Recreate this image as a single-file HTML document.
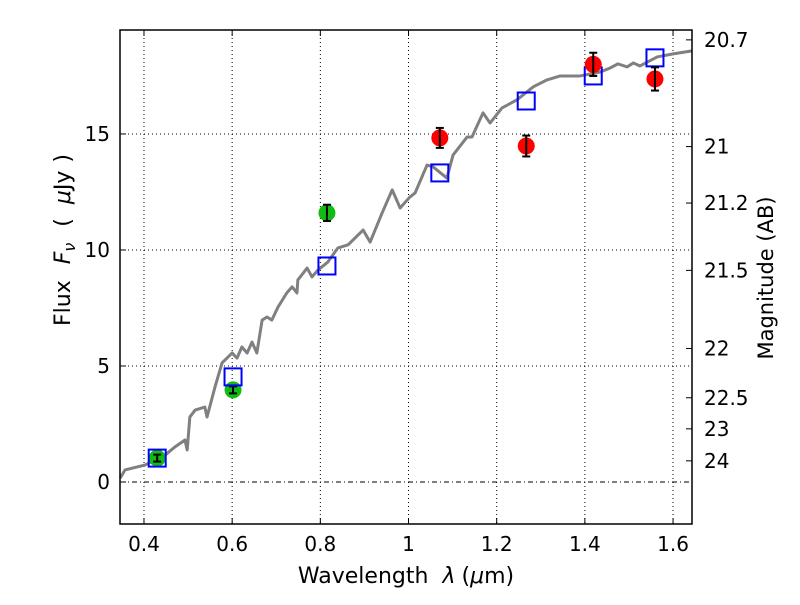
<!DOCTYPE html>
<html><head><meta charset="utf-8"><style>
body{margin:0;background:#fff;}
svg text{font-family:"DejaVu Sans","Liberation Sans",sans-serif;}
</style></head><body>
<svg id="chart" width="800" height="600" xmlns="http://www.w3.org/2000/svg">
<rect width="800" height="600" fill="#fff"/>
<g id="grid"></g>
<g id="marks"></g>
<g id="axes"></g>
<text x="406" y="583" font-size="22" text-anchor="middle">Wavelength<tspan dx="14" font-style="italic">λ</tspan><tspan dx="6">(</tspan><tspan font-style="italic">μ</tspan>m)</text>
<text transform="translate(70,240) rotate(-90)" font-size="22" text-anchor="middle">Flux<tspan dx="16" font-style="italic">F</tspan><tspan font-style="italic" font-size="16" dy="5">ν</tspan><tspan dy="-5" dx="16">(</tspan><tspan dx="14" font-style="italic">μ</tspan>Jy<tspan dx="8">)</tspan></text>
<text transform="translate(773,278) rotate(-90)" font-size="21" text-anchor="middle">Magnitude (AB)</text>
</svg>
<script>
const specX=[0.346,0.357,0.402,0.448,0.470,0.493,0.498,0.504,0.516,0.538,0.543,0.561,0.577,0.600,0.611,0.622,0.634,0.645,0.656,0.668,0.679,0.690,0.704,0.724,0.736,0.747,0.749,0.770,0.781,0.795,0.817,0.833,0.840,0.863,0.897,0.913,0.940,0.963,0.981,1.003,1.015,1.042,1.056,1.087,1.101,1.133,1.144,1.169,1.185,1.212,1.246,1.283,1.314,1.344,1.389,1.435,1.457,1.475,1.496,1.510,1.525,1.564,1.600,1.643];
const specY=[0.17,0.52,0.73,1.16,1.51,1.81,1.38,2.80,3.10,3.23,2.80,4.09,5.13,5.56,5.34,5.82,5.56,6.03,5.56,6.98,7.11,6.98,7.54,8.15,8.41,8.15,8.71,9.22,8.84,9.14,9.48,9.91,10.09,10.22,10.86,10.34,11.59,12.59,11.81,12.28,12.46,13.66,13.58,13.10,14.09,14.87,14.87,15.91,15.47,16.12,16.47,17.03,17.33,17.50,17.50,17.67,17.84,18.02,17.89,18.06,17.93,18.32,18.45,18.58];
const greenX=[0.43,0.602,0.815];
const greenY=[1.03,3.97,11.6];
const greenErr=[0.15,0.15,0.35];
const redX=[1.071,1.267,1.419,1.559];
const redY=[14.83,14.48,18.0,17.37];
const redErr=[0.43,0.45,0.5,0.5];
const modelX=[0.43,0.602,0.815,1.071,1.267,1.419,1.559];
const modelY=[1.03,4.53,9.31,13.32,16.42,17.5,18.28];
const xTicks=[0.4,0.6,0.8,1.0,1.2,1.4,1.6];
const xTickLabels=["0.4","0.6","0.8","1","1.2","1.4","1.6"];
const yTicks=[0,5,10,15];
const magTicks=[20.7,21,21.2,21.5,22,22.5,23,24];

const L=120,R=692,T=30,B=524,XMIN=0.3456,XMAX=1.643,YMIN=-1.81,YMAX=19.48;
const sx=v=>L+(v-XMIN)/(XMAX-XMIN)*(R-L);
const sy=v=>B-(v-YMIN)/(YMAX-YMIN)*(B-T);
const NS="http://www.w3.org/2000/svg";
function mk(tag,attrs,parent){const e=document.createElementNS(NS,tag);for(const k in attrs)e.setAttribute(k,attrs[k]);parent.appendChild(e);return e;}
const grid=document.getElementById('grid'),marks=document.getElementById('marks'),axes=document.getElementById('axes');
xTicks.forEach(v=>{const l=mk('line',{x1:sx(v),x2:sx(v),y1:T,y2:B,stroke:'#000','stroke-width':1,'stroke-dasharray':'1,3'},grid);});
yTicks.forEach(v=>{if(v===0)return;const l=mk('line',{x1:L,x2:R,y1:sy(v),y2:sy(v),stroke:'#000','stroke-width':1,'stroke-dasharray':'1,3'},grid);});
const zl=mk('line',{x1:L,x2:R,y1:sy(0),y2:sy(0),stroke:'#000','stroke-width':1,'stroke-dasharray':'5,3,1,3'},grid);


const sp=mk('polyline',{points:specX.map((x,i)=>sx(x)+','+sy(specY[i])).join(' '),fill:'none',stroke:'#808080','stroke-width':3,'stroke-linejoin':'round'},marks);


function pt(x,y,e,color){
  const c=mk('circle',{cx:sx(x),cy:sy(y),r:8.5,fill:color},marks);
  
  
  const g=mk('g',{stroke:'#000','stroke-width':2},marks);
  
  
  const X=sx(x),y1=sy(y+e),y2=sy(y-e);
  mk('line',{x1:X,x2:X,y1:y1,y2:y2},g);mk('line',{x1:X-4,x2:X+4,y1:y1,y2:y1},g);mk('line',{x1:X-4,x2:X+4,y1:y2,y2:y2},g);
}
greenX.forEach((x,i)=>pt(x,greenY[i],greenErr[i],'#11bb11'));
modelX.forEach((x,i)=>{const r=mk('rect',{x:sx(x)-8.5,y:sy(modelY[i])-8.5,width:17,height:17,fill:'none',stroke:'#0000ff','stroke-width':2},marks);});
redX.forEach((x,i)=>pt(x,redY[i],redErr[i],'#ff0000'));
const fr=mk('rect',{x:L,y:T,width:R-L,height:B-T,fill:'none',stroke:'#000','stroke-width':1.5},axes);


xTicks.forEach((v,i)=>{mk('line',{x1:sx(v),x2:sx(v),y1:B,y2:B-6,stroke:'#000'},axes);mk('line',{x1:sx(v),x2:sx(v),y1:T,y2:T+6,stroke:'#000'},axes);
  const t=mk('text',{x:sx(v),y:B+27,'font-size':20,'text-anchor':'middle'},axes);t.textContent=xTickLabels[i];});
yTicks.forEach(v=>{mk('line',{x1:L,x2:L+6,y1:sy(v),y2:sy(v),stroke:'#000'},axes);
  const t=mk('text',{x:L-10,y:sy(v)+7,'font-size':20,'text-anchor':'end'},axes);t.textContent=String(v);});
magTicks.forEach(m=>{const f=Math.pow(10,(23.9-m)/2.5);const y=sy(f);mk('line',{x1:R-6,x2:R,y1:y,y2:y,stroke:'#000'},axes);
  const t=mk('text',{x:R+12,y:y+7,'font-size':20},axes);t.textContent=String(m);});
</script>
</body></html>
